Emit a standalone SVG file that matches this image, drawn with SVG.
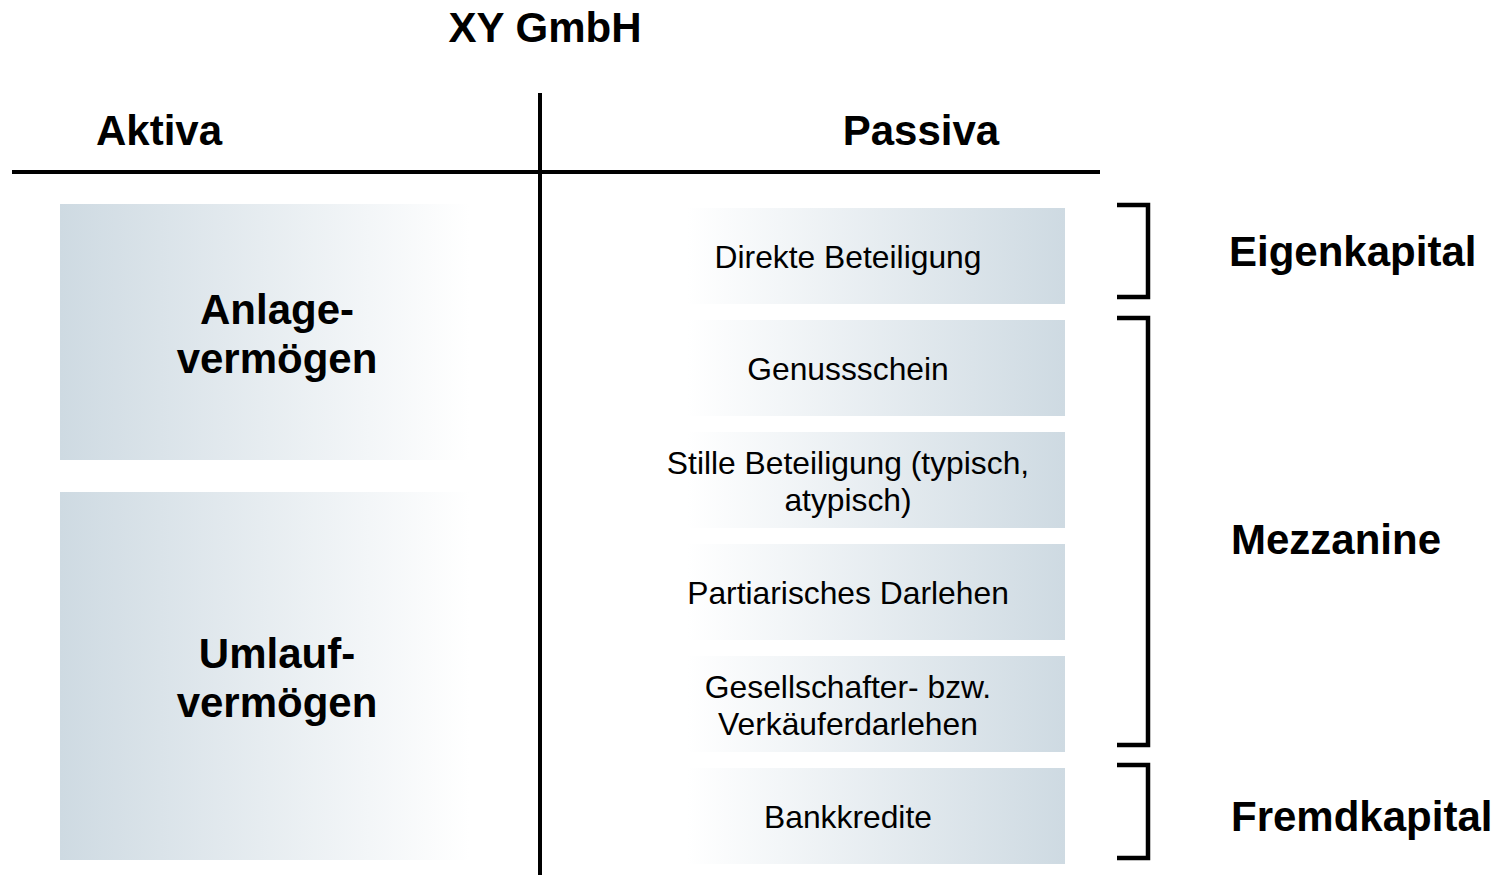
<svg xmlns="http://www.w3.org/2000/svg" width="1509" height="875" viewBox="0 0 1509 875">
<defs>
<linearGradient id="gl" x1="0" y1="0" x2="1" y2="0">
<stop offset="0" stop-color="#cedae2"/>
<stop offset="1" stop-color="#ffffff"/>
</linearGradient>
<linearGradient id="gr" x1="0" y1="0" x2="1" y2="0">
<stop offset="0" stop-color="#ffffff"/>
<stop offset="1" stop-color="#cedae2"/>
</linearGradient>
</defs>
<style>
text{font-family:"Liberation Sans",Arial,sans-serif;fill:#000;text-anchor:middle}
.h{font-weight:bold;font-size:42px}
.t{font-weight:bold;font-size:42px}
.b{font-size:31.8px}
.lab{font-weight:bold;font-size:42px;text-anchor:start}
.line{stroke:#000;stroke-width:4;fill:none}
.br{stroke:#000;stroke-width:4.5;fill:none}
.lbox{fill:url(#gl)}
.rbox{fill:url(#gr)}
</style>
<rect width="1509" height="875" fill="#fff"/>
<text id="title" class="t" x="545" y="42">XY GmbH</text>
<g id="frame">
<line class="line" x1="12" y1="172" x2="1100" y2="172"/>
<line class="line" x1="540" y1="93" x2="540" y2="875"/>
<text class="h" x="159" y="145">Aktiva</text>
<text class="h" x="921" y="145">Passiva</text>
</g>
<g id="anlage">
<rect class="lbox" x="60" y="204" width="410" height="256"/>
<text class="h" x="277" y="324">Anlage-</text>
<text class="h" x="277" y="373">vermögen</text>
</g>
<g id="umlauf">
<rect class="lbox" x="60" y="492" width="410" height="368"/>
<text class="h" x="277" y="668">Umlauf-</text>
<text class="h" x="277" y="717">vermögen</text>
</g>
<g id="direkte">
<rect class="rbox" x="687" y="208" width="378" height="96"/>
<text class="b" x="848" y="268">Direkte Beteiligung</text>
</g>
<g id="genuss">
<rect class="rbox" x="687" y="320" width="378" height="96"/>
<text class="b" x="848" y="380">Genussschein</text>
</g>
<g id="stille">
<rect class="rbox" x="687" y="432" width="378" height="96"/>
<text class="b" x="848" y="474">Stille Beteiligung (typisch,</text>
<text class="b" x="848" y="511">atypisch)</text>
</g>
<g id="partiarisch">
<rect class="rbox" x="687" y="544" width="378" height="96"/>
<text class="b" x="848" y="604">Partiarisches Darlehen</text>
</g>
<g id="gesellschafter">
<rect class="rbox" x="687" y="656" width="378" height="96"/>
<text class="b" x="848" y="698">Gesellschafter- bzw.</text>
<text class="b" x="848" y="735">Verkäuferdarlehen</text>
</g>
<g id="bank">
<rect class="rbox" x="687" y="768" width="378" height="96"/>
<text class="b" x="848" y="828">Bankkredite</text>
</g>
<g id="connectors">
<path class="br" d="M1117 205 H1148 V297 H1117"/>
<path class="br" d="M1117 318 H1148 V745 H1117"/>
<path class="br" d="M1117 765 H1148 V858 H1117"/>
</g>
<g id="labels">
<text class="lab" x="1229" y="266">Eigenkapital</text>
<text class="lab" x="1231" y="554">Mezzanine</text>
<text class="lab" x="1231" y="831">Fremdkapital</text>
</g>
</svg>
